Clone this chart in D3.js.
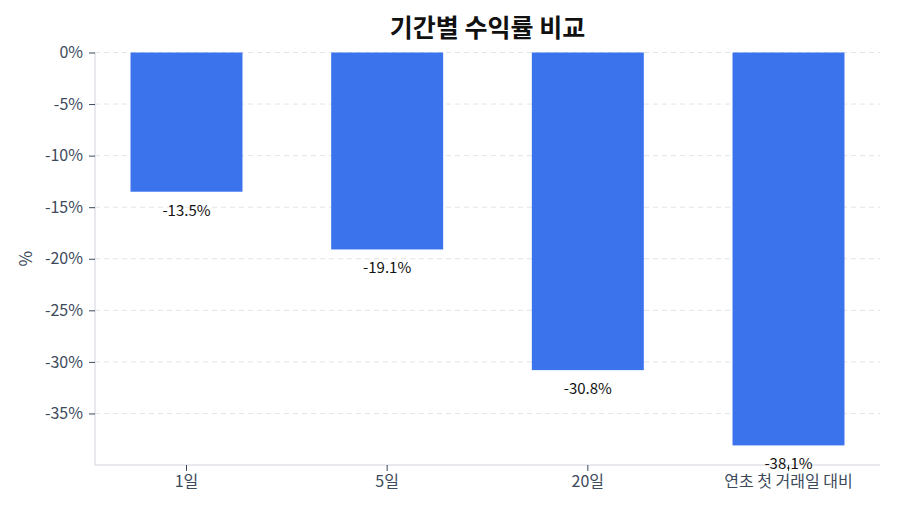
<!DOCTYPE html>
<html>
<head>
<meta charset="utf-8">
<script src="https://cdn.jsdelivr.net/npm/d3@7"></script>
<style>
  body { margin: 0; background: #fff; }
  text { font-family: "Noto Sans CJK KR", "Noto Sans", sans-serif; }
</style>
</head>
<body>
<svg id="chart" width="900" height="514"></svg>
<script>
var categories = ["1일", "5일", "20일", "연초 첫 거래일 대비"];
var returns = [-13.5, -19.1, -30.8, -38.1];
var yTicks = [0, -5, -10, -15, -20, -25, -30, -35];
var title = "기간별 수익률 비교";

var svg = d3.select("#chart");
var m = {left: 95, right: 880, top: 52.5, bottom: 465};

var x = d3.scaleBand().domain(categories).range([m.left, m.right])
  .paddingInner(0.442).paddingOuter(0.177);
var y = d3.scaleLinear().domain([-40, 0]).range([m.bottom, m.top]);

// grid
svg.append("g").selectAll("line").data(yTicks).enter().append("line")
  .attr("x1", m.left).attr("x2", m.right)
  .attr("y1", function(d){ return y(d); }).attr("y2", function(d){ return y(d); })
  .attr("stroke", "#e1e4e8").attr("stroke-width", 1).attr("stroke-dasharray", "5,4");

// bars
svg.append("g").selectAll("rect").data(returns).enter().append("rect")
  .attr("x", function(d, i){ return x(categories[i]); })
  .attr("y", y(0))
  .attr("width", x.bandwidth())
  .attr("height", function(d){ return y(d) - y(0); })
  .attr("fill", "#3b73ed");

// y axis
var yAxis = svg.append("g").attr("transform", "translate(" + m.left + ",0)")
  .call(d3.axisLeft(y).tickValues(yTicks).tickSize(6).tickPadding(6)
    .tickFormat(function(d){ return d + "%"; }));
yAxis.select(".domain").attr("stroke", "#d0d4db").attr("d", "M0," + m.top + "V" + m.bottom);
yAxis.selectAll(".tick line").attr("stroke", "#3d4a5c");
yAxis.selectAll(".tick text").attr("fill", "#3d4a5c").style("font-size", "16px");

// x axis
var xAxis = svg.append("g").attr("transform", "translate(0," + m.bottom + ")")
  .call(d3.axisBottom(x).tickSize(6).tickPadding(5));
xAxis.select(".domain").attr("stroke", "#d0d4db").attr("d", "M" + m.left + ",0H" + m.right);
xAxis.selectAll(".tick line").attr("stroke", "#3d4a5c");
xAxis.selectAll(".tick text").attr("fill", "#3d4a5c").style("font-size", "16px");

// value labels
svg.append("g").selectAll("text").data(returns).enter().append("text")
  .attr("x", function(d, i){ return x(categories[i]) + x.bandwidth() / 2; })
  .attr("y", function(d){ return y(d) + 24; })
  .attr("text-anchor", "middle")
  .attr("fill", "#111")
  .style("font-size", "15px")
  .text(function(d){ return d.toFixed(1) + "%"; });

// y label
svg.append("text")
  .attr("transform", "translate(32," + ((m.top + m.bottom) / 2) + ") rotate(-90)")
  .attr("text-anchor", "middle")
  .attr("fill", "#3d4a5c")
  .style("font-size", "17px")
  .text("%");

// title
svg.append("text")
  .attr("x", (m.left + m.right) / 2).attr("y", 37)
  .attr("text-anchor", "middle")
  .attr("fill", "#111")
  .style("font-size", "25px").style("font-weight", "bold")
  .text(title);
</script>
</body>
</html>
